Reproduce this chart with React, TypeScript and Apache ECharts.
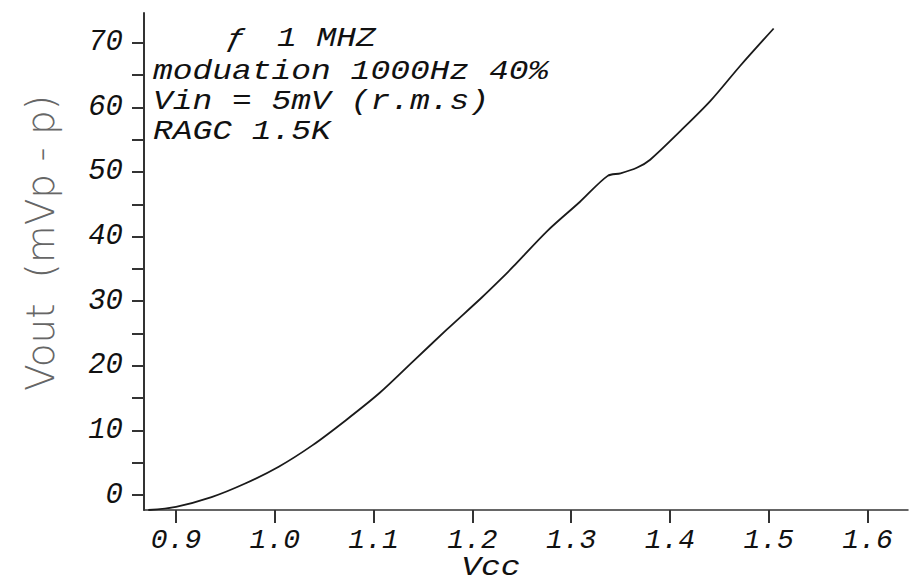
import React, { useEffect, useRef } from "react";
import * as echarts from "echarts";

const vcc = [0.872, 0.9, 0.936, 0.97, 1.004, 1.038, 1.072, 1.106, 1.14, 1.174, 1.209, 1.228, 1.241, 1.276, 1.309, 1.337, 1.35, 1.367, 1.38, 1.411, 1.441, 1.471, 1.505];
const vout = [-2.3, -1.8, -0.3, 1.8, 4.4, 7.7, 11.6, 15.8, 20.7, 25.6, 30.5, 33.3, 35.3, 40.9, 45.4, 49.4, 49.8, 50.7, 51.9, 56.4, 61.0, 66.4, 72.2];
const xTicks = [0.9, 1.0, 1.1, 1.2, 1.3, 1.4, 1.5, 1.6];
const yLabels = [0, 10, 20, 30, 40, 50, 60, 70];
const yTicks = [0, 5, 10, 15, 20, 25, 30, 35, 40, 45, 50, 55, 60, 65, 70];
const freqSymbol = "ƒ";
const freqText = "1 MHZ";
const noteLines = ["moduation 1000Hz 40%", "Vin = 5mV (r.m.s)", "RAGC 1.5K"];
const xName = "Vcc";
const yName = "Vout  (mVp - p)";

const mono = "'Liberation Mono', 'DejaVu Sans Mono', monospace";

export default function App() {
  const ref = useRef<HTMLDivElement>(null);
  useEffect(() => {
    document.body.style.margin = "0";
    const chart = echarts.init(ref.current!, null, { renderer: "svg" });
    const txt = (text: string, x: number, y: number, align = "left") => ({
      type: "text",
      x,
      y,
      scaleX: 1.22,
      style: {
        text,
        fontFamily: mono,
        fontStyle: "italic",
        fontSize: 27,
        fill: "#111",
        textAlign: align,
        textVerticalAlign: "middle",
      },
    });
    chart.setOption({
      animation: false,
      backgroundColor: "#ffffff",
      grid: { left: 144, right: 1, top: 13, bottom: 74 },
      xAxis: {
        type: "value",
        min: 0.8676,
        max: 1.641,
        splitLine: { show: false },
        axisLine: { show: true, onZero: false, lineStyle: { color: "#333", width: 1.5 } },
        axisTick: { show: true, customValues: xTicks, length: 13, lineStyle: { color: "#333", width: 2 } },
        axisLabel: {
          customValues: xTicks,
          formatter: (v: number) => v.toFixed(1),
          margin: 16,
          color: "#111",
          fontFamily: mono,
          fontStyle: "italic",
          fontSize: 28,
        },
      },
      yAxis: {
        type: "value",
        min: -2.3,
        max: 74.6,
        splitLine: { show: false },
        axisLine: { show: true, onZero: false, lineStyle: { color: "#333", width: 2 } },
        axisTick: { show: true, customValues: yTicks, length: 12, lineStyle: { color: "#333", width: 2 } },
        axisLabel: {
          customValues: yLabels,
          margin: 21,
          color: "#111",
          fontFamily: mono,
          fontStyle: "italic",
          fontSize: 29,
        },
      },
      series: [
        {
          type: "line",
          data: vcc.map((x, i) => [x, vout[i]]),
          smooth: 0.3,
          showSymbol: false,
          lineStyle: { color: "#1a1a1a", width: 1.8 },
        },
      ],
      graphic: [
        txt(freqSymbol, 226, 39),
        txt(freqText, 277, 39),
        txt(noteLines[0], 153, 72),
        txt(noteLines[1], 153, 102),
        txt(noteLines[2], 153, 132),
        txt(xName, 491, 568, "center"),
        {
          type: "text",
          x: 40,
          y: 243,
          rotation: Math.PI / 2,
          style: {
            text: yName,
            fontFamily: "'DejaVu Sans'",
            fontWeight: 200,
            fontSize: 39,
            fill: "#666",
            textAlign: "center",
            textVerticalAlign: "middle",
          },
        },
      ],
    });
    return () => chart.dispose();
  }, []);
  return <div ref={ref} style={{ width: 909, height: 584 }} />;
}
